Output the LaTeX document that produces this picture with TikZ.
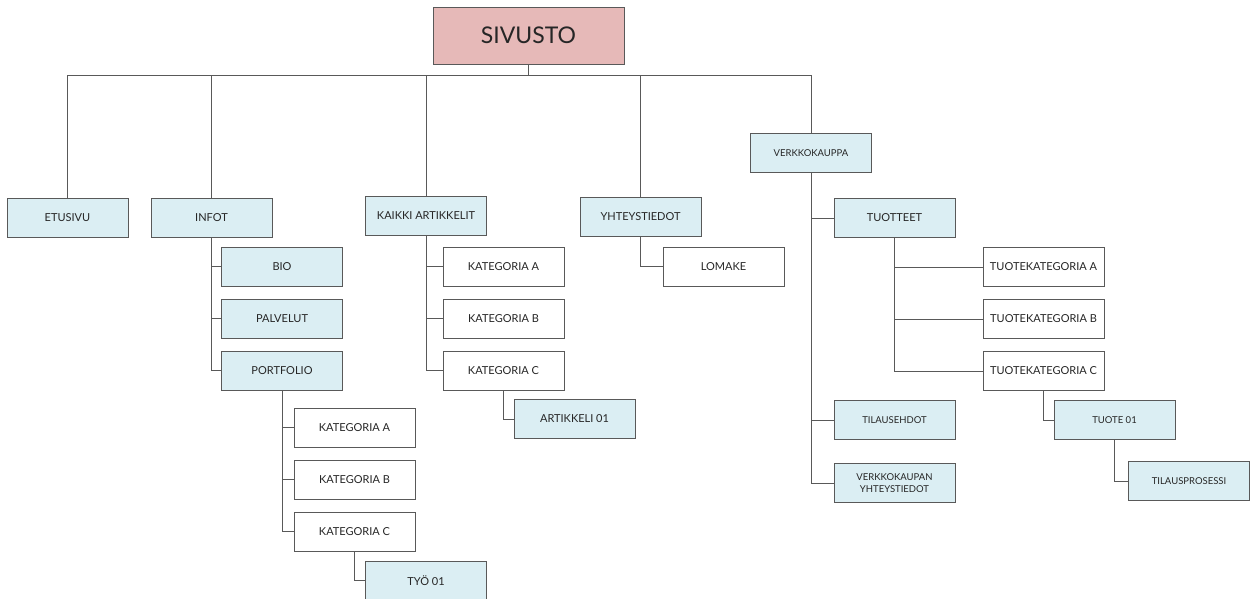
\documentclass[tikz,border=0pt]{standalone}
\usepackage{fontspec}
\setmainfont{Lato}
\usetikzlibrary{positioning}
\definecolor{pagebox}{HTML}{DBEEF3}
\definecolor{rootbox}{HTML}{E6B9B8}
\definecolor{edgegray}{HTML}{595959}

\begin{document}
\begin{tikzpicture}[x=1pt, y=-1pt, node distance=12pt,
    page/.style={rectangle, draw=edgegray, fill=pagebox, line width=1pt, minimum width=121pt, minimum height=39pt, inner sep=1pt, align=center, text=black!85, font=\fontsize{11}{13}\selectfont},
    sub/.style={page, fill=white},
    small/.style={font=\fontsize{9.5}{12}\selectfont},
    link/.style={draw=gray!70!black, line width=1pt}]
    \useasboundingbox (0,0) rectangle (1250,598);

    % Nodes
    \node (Sivusto) [page, fill=rootbox, minimum width=191pt, minimum height=57pt, font=\fontsize{23}{27}\selectfont] at (528.5,35.5) {SIVUSTO};
    \coordinate (Bus) at (528.5,75);

    \node (Etusivu) [page] at (67.5,217.5) {ETUSIVU};
    \node (Infot) [page] at (211.5,217.5) {INFOT};
    \node (Kaikki) [page] at (426,215.5) {KAIKKI ARTIKKELIT};
    \node (Yhteys) [page] at (640.5,217) {YHTEYSTIEDOT};
    \node (Verkko) [page, small] at (811,153) {VERKKOKAUPPA};

    \node (Bio) [page] at (282,266.5) {BIO};
    \node (Palvelut) [page, below=of Bio] {PALVELUT};
    \node (Portfolio) [page, below=of Palvelut] {PORTFOLIO};
    \node (PKatA) [sub] at (354.5,427.5) {KATEGORIA A};
    \node (PKatB) [sub, below=of PKatA] {KATEGORIA B};
    \node (PKatC) [sub, below=of PKatB] {KATEGORIA C};
    \node (Tyo) [page] at (426,580.5) {TYÖ 01};

    \node (AKatA) [sub] at (503.5,266.5) {KATEGORIA A};
    \node (AKatB) [sub, below=of AKatA] {KATEGORIA B};
    \node (AKatC) [sub, below=of AKatB] {KATEGORIA C};
    \node (Artikkeli) [page] at (574.5,419) {ARTIKKELI 01};

    \node (Lomake) [sub] at (723.5,266.5) {LOMAKE};

    \node (Tuotteet) [page] at (894.5,218) {TUOTTEET};
    \node (TKatA) [sub] at (1043.5,267) {TUOTEKATEGORIA A};
    \node (TKatB) [sub, below=of TKatA] {TUOTEKATEGORIA B};
    \node (TKatC) [sub, below=of TKatB] {TUOTEKATEGORIA C};
    \node (Tuote) [page, small] at (1114.5,420) {TUOTE 01};
    \node (Prosessi) [page, small] at (1189,481) {TILAUSPROSESSI};
    \node (Ehdot) [page, small] at (894.5,420) {TILAUSEHDOT};
    \node (VYhteys) [page, small] at (894.5,483) {VERKKOKAUPAN\\YHTEYSTIEDOT};

    % Edges
    \draw[link] (Sivusto.south) -- (Bus);
    \foreach \n in {Etusivu, Infot, Kaikki, Yhteys, Verkko}
        \draw[link] (Bus) -| (\n.north);

    \foreach \n in {Bio, Palvelut, Portfolio}
        \draw[link] (Infot.south) |- (\n.west);
    \foreach \n in {PKatA, PKatB, PKatC}
        \draw[link] (Portfolio.south) |- (\n.west);
    \draw[link] (PKatC.south) |- (Tyo.west);

    \foreach \n in {AKatA, AKatB, AKatC}
        \draw[link] (Kaikki.south) |- (\n.west);
    \draw[link] (AKatC.south) |- (Artikkeli.west);

    \draw[link] (Yhteys.south) |- (Lomake.west);

    \foreach \n in {Tuotteet, Ehdot, VYhteys}
        \draw[link] (Verkko.south) |- (\n.west);
    \foreach \n in {TKatA, TKatB, TKatC}
        \draw[link] (Tuotteet.south) |- (\n.west);
    \draw[link] (TKatC.south) |- (Tuote.west);
    \draw[link] (Tuote.south) |- (Prosessi.west);
\end{tikzpicture}
\end{document}
